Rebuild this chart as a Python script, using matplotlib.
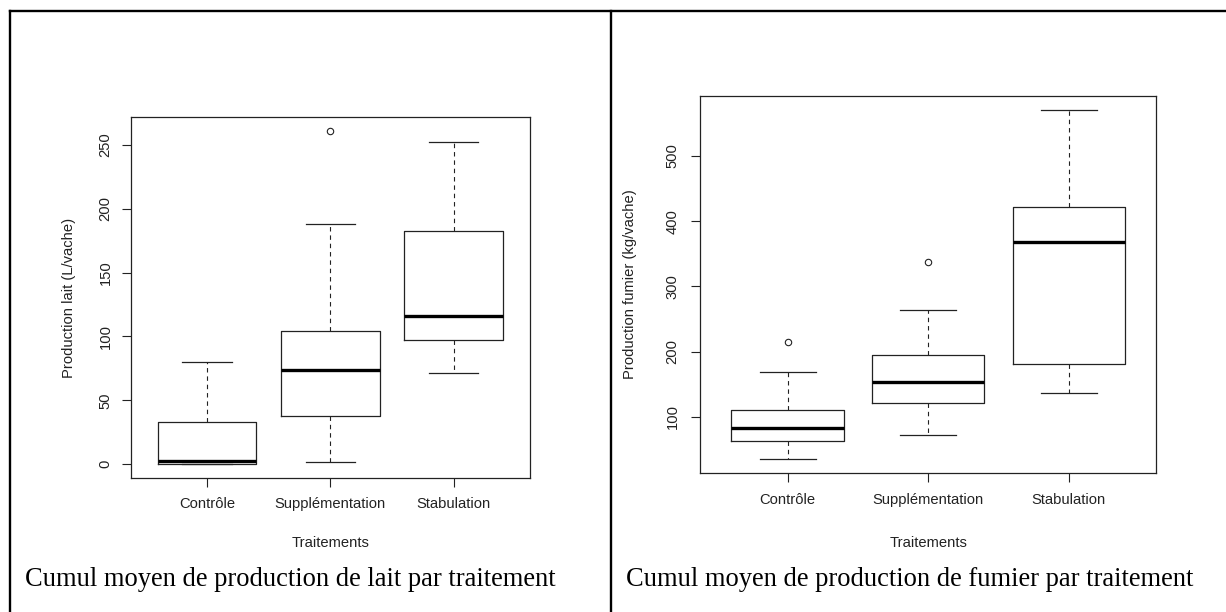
import matplotlib
matplotlib.use("Agg")
import matplotlib.pyplot as plt
from matplotlib.lines import Line2D

# Traitements
categories = ['Contrôle', 'Supplémentation', 'Stabulation']

# Production de lait (L/vache)
lait_whislo = [0.0, 1.6, 71.3]
lait_q1 = [0.0, 37.5, 97.1]
lait_med = [2.2, 74.1, 116.0]
lait_q3 = [32.9, 104.2, 182.4]
lait_whishi = [80.3, 188.3, 252.5]
lait_fliers = [[], [261.0], []]
lait_ticks = [0, 50, 100, 150, 200, 250]

# Production de fumier (kg/vache)
fumier_whislo = [35.2, 72.7, 137.0]
fumier_q1 = [63.6, 121.8, 180.6]
fumier_med = [82.4, 152.7, 367.9]
fumier_q3 = [110.3, 195.2, 421.8]
fumier_whishi = [169.1, 263.0, 570.9]
fumier_fliers = [[213.9], [337.0], []]
fumier_ticks = [100, 200, 300, 400, 500]

W, H = 1226, 612
fig = plt.figure(figsize=(W / 100, H / 100), dpi=100)
fig.patch.set_facecolor('white')

TXT = '#222222'
SANS = 'Liberation Sans'
FS = 10.6


def stats(whislo, q1, med, q3, whishi, fliers):
    return [dict(whislo=a, q1=b, med=c, q3=d, whishi=e, fliers=f)
            for a, b, c, d, e, f in zip(whislo, q1, med, q3, whishi, fliers)]


def boite(rect, st, ticks, ylabel, ylab_x, ypad):
    l, t, r, b = rect
    ax = fig.add_axes([l / W, 1 - b / H, (r - l) / W, (b - t) / H])
    ax.bxp(st, positions=[1, 2, 3], widths=0.8, capwidths=0.4,
           boxprops=dict(color=TXT, linewidth=0.9),
           medianprops=dict(color='black', linewidth=2.4, solid_capstyle='butt'),
           whiskerprops=dict(color=TXT, linewidth=0.8, linestyle=(0, (4, 3.5))),
           capprops=dict(color=TXT, linewidth=0.9),
           flierprops=dict(marker='o', markersize=4.6, markerfacecolor='none',
                           markeredgecolor=TXT, markeredgewidth=0.8))
    ax.set_xlim(0.38, 3.62)
    ax.margins(y=0.04)
    ax.set_xticks([1, 2, 3])
    ax.set_xticklabels(categories, fontsize=FS, family=SANS, color=TXT)
    ax.set_yticks(ticks)
    ax.set_yticklabels([str(v) for v in ticks], fontsize=FS, family=SANS,
                       color=TXT, rotation=90, va='center')
    ax.tick_params(axis='both', direction='out', length=6.8, width=0.8, color=TXT)
    ax.tick_params(axis='x', pad=7.5)
    ax.tick_params(axis='y', pad=ypad)
    for s in ax.spines.values():
        s.set_linewidth(0.9)
        s.set_color(TXT)
    ax.set_xlabel('Traitements', fontsize=FS, family=SANS, color=TXT, va='center')
    ax.xaxis.set_label_coords(0.5, (b - 543) / (b - t))
    ax.set_ylabel(ylabel, fontsize=FS, family=SANS, color=TXT, va='center')
    ax.yaxis.set_label_coords((ylab_x - l) / (r - l), 0.5)
    return ax


boite((130.5, 117.4, 530, 477.5),
      stats(lait_whislo, lait_q1, lait_med, lait_q3, lait_whishi, lait_fliers),
      lait_ticks, 'Production lait (L/vache)', 69, 6)
boite((700.5, 95.7, 1156, 473),
      stats(fumier_whislo, fumier_q1, fumier_med, fumier_q3, fumier_whishi, fumier_fliers),
      fumier_ticks, 'Production fumier (kg/vache)', 630.5, 8.2)

# Légendes sous les graphiques (style document)
fig.text(25 / W, 1 - 586 / H, 'Cumul moyen de production de lait par traitement',
         family='Liberation Serif', fontsize=19.1, va='baseline', ha='left')
fig.text(625.7 / W, 1 - 586 / H, 'Cumul moyen de production de fumier par traitement',
         family='Liberation Serif', fontsize=19.1, va='baseline', ha='left')

# Bordures du tableau
bords = [((9.5, 9.5), (11, H)), ((9.5, W), (11, 11)), ((610.7, 610.7), (11, H))]
for xs, ys in bords:
    fig.add_artist(Line2D([x / W for x in xs], [1 - y / H for y in ys],
                          color='black', linewidth=1.7, transform=fig.transFigure))

fig.savefig('out.png', dpi=100)
